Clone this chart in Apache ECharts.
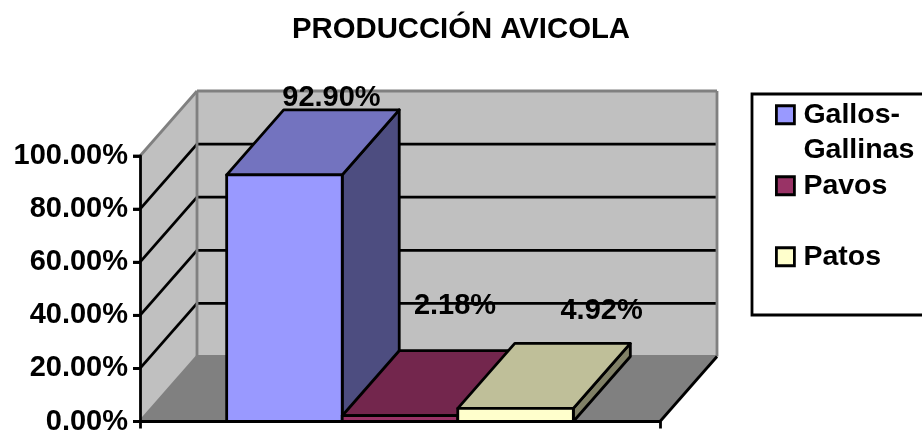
<!DOCTYPE html>
<html><head><meta charset="utf-8">
<style>html,body{margin:0;padding:0;background:#fff}#c{width:922px;height:434px}</style>
<script src="https://cdn.jsdelivr.net/npm/echarts@6/dist/echarts.min.js"></script>
</head><body><div id="c"></div>
<script>
const categories = ['Producción'];
const seriesNames = ['Gallos-Gallinas', 'Pavos', 'Patos'];
const gallos = [92.90];
const pavos = [2.18];
const patos = [4.92];
const yTicks = [0, 20, 40, 60, 80, 100];
const legendText = {'Gallos-Gallinas': 'Gallos-\nGallinas', 'Pavos': 'Pavos\n ', 'Patos': 'Patos\n '};
const frontColors = ['#9999FF', '#993366', '#FFFFCC'];
const topColors = ['#7373BF', '#73264D', '#BFBF99'];
const sideColors = ['#4D4D80', '#4D1A33', '#808066'];

const FONT = '"Liberation Sans", Arial, sans-serif';
const DX = 57, DY = -65;
const BAR_FRACTION = 1 / 4.5;
const LW = 2.8;
const TICK = 7;
const LABEL_OFFSET = [[-10, -12], [-2, -45], [29, -32]];
const fmt = v => v.toFixed(2) + '%';
const poly = (points, fill, stroke, width) => ({
  type: 'polygon', shape: {points},
  style: {fill: fill, stroke: stroke || null, lineWidth: width || 0, lineJoin: 'round'}
});
const line = (a, b, color, width) => ({
  type: 'line', shape: {x1: a[0], y1: a[1], x2: b[0], y2: b[1]},
  style: {stroke: color, lineWidth: width}
});

function renderWalls(params, api) {
  const xc = api.coord([0, 0])[0], band = api.size([1, 0])[0];
  const L = xc - band / 2, R = xc + band / 2;
  const y0 = api.coord([0, 0])[1], y100 = api.coord([0, 100])[1];
  const b = (x, y) => [x + DX, y + DY];
  const kids = [
    poly([b(L, y0), b(R, y0), b(R, y100), b(L, y100)], '#C0C0C0'),
    poly([[L, y0], b(L, y0), b(L, y100), [L, y100]], '#C0C0C0'),
    poly([[L, y0], [R, y0], b(R, y0), b(L, y0)], '#808080')
  ];
  yTicks.forEach(t => {
    const y = api.coord([0, t])[1];
    kids.push(line([L - TICK, y], [L, y], '#000', LW));
    if (t === 0 || t === 100) return;
    kids.push(line([L, y], b(L, y), '#000', LW));
    kids.push(line(b(L, y), b(R, y), '#000', LW));
  });
  const grey = '#808080';
  kids.push(line([L, y100], b(L, y100), grey, LW));
  kids.push(line(b(L, y100), b(R, y100), grey, LW));
  kids.push(line(b(L, y100), b(L, y0), grey, LW));
  kids.push(line(b(R, y100), b(R, y0), grey, LW));
  kids.push(line(b(L, y0), b(R, y0), grey, LW));
  kids.push(line([L, y0], b(L, y0), grey, LW));
  kids.push(line([R, y0], b(R, y0), '#000', LW));
  return {type: 'group', children: kids};
}

function barRenderer(i) {
  return function (params, api) {
    const xc = api.coord([api.value(0), 0])[0], band = api.size([1, 0])[0];
    const w = band * BAR_FRACTION;
    const x1 = xc + (i - 1.5) * w, x2 = x1 + w;
    const y0 = api.coord([0, 0])[1], yv = api.coord([0, api.value(1)])[1];
    const b = p => [p[0] + DX, p[1] + DY];
    const A = [x1, y0], B = [x2, y0], C = [x2, yv], D = [x1, yv];
    return {type: 'group', children: [
      poly([B, C, b(C), b(B)], sideColors[i], '#000', LW),
      poly([D, C, b(C), b(D)], topColors[i], '#000', LW),
      poly([A, B, C, D], frontColors[i], '#000', LW),
      {type: 'text', z2: 50, style: {
        text: fmt(api.value(1)), x: (x1 + x2) / 2 + DX + LABEL_OFFSET[i][0], y: yv + DY + LABEL_OFFSET[i][1],
        align: 'center', verticalAlign: 'middle', font: 'bold 29px ' + FONT, fill: '#000'
      }}
    ]};
  };
}

const chart = echarts.init(document.getElementById('c'), null, {renderer: 'canvas'});
chart.setOption({
  animation: false,
  color: frontColors,
  title: {
    text: 'PRODUCCIÓN AVICOLA', left: 'center', top: 10,
    textStyle: {fontFamily: FONT, fontWeight: 'bold', fontSize: 29.3, color: '#000'}
  },
  grid: {left: 140, top: 156, width: 520, height: 265.5, containLabel: false, outerBoundsMode: 'none'},
  xAxis: {
    type: 'category', data: categories, z: 20,
    axisLine: {lineStyle: {color: '#000', width: LW}},
    axisTick: {show: true, length: TICK, lineStyle: {color: '#000', width: LW}},
    axisLabel: {show: false}
  },
  yAxis: {
    type: 'value', min: 0, max: 100, interval: 20, z: 20,
    axisLine: {show: true, lineStyle: {color: '#000', width: LW}},
    axisTick: {show: true, length: TICK, lineStyle: {color: '#000', width: LW}},
    splitLine: {show: false},
    axisLabel: {formatter: fmt, margin: 12, fontFamily: FONT, fontWeight: 'bold', fontSize: 29, color: '#000', padding: [3, 0, 0, 0]}
  },
  legend: {
    show: true, orient: 'vertical', left: 775, top: 58, padding: 0, itemGap: -42.5,
    itemWidth: 18, itemHeight: 18, icon: 'rect',
    data: seriesNames, selectedMode: false,
    formatter: n => '\n' + legendText[n],
    itemStyle: {borderColor: '#000', borderWidth: LW},
    textStyle: {fontFamily: FONT, fontWeight: 'bold', fontSize: 28.5, color: '#000', lineHeight: 35.5, padding: [7, 0, 0, 4]}
  },
  graphic: [{
    type: 'rect', z: -1, shape: {x: 752, y: 94, width: 185, height: 221},
    style: {fill: '#fff', stroke: '#000', lineWidth: LW}
  }],
  series: [
    {type: 'custom', name: 'walls', data: [[0, 0]], renderItem: renderWalls, clip: false, silent: true, z: 1},
    {type: 'custom', name: seriesNames[0], data: gallos.map((v, k) => [k, v]), renderItem: barRenderer(0), clip: false, z: 2, itemStyle: {color: frontColors[0]}},
    {type: 'custom', name: seriesNames[1], data: pavos.map((v, k) => [k, v]), renderItem: barRenderer(1), clip: false, z: 2, itemStyle: {color: frontColors[1]}},
    {type: 'custom', name: seriesNames[2], data: patos.map((v, k) => [k, v]), renderItem: barRenderer(2), clip: false, z: 2, itemStyle: {color: frontColors[2]}}
  ]
});
</script></body></html>
